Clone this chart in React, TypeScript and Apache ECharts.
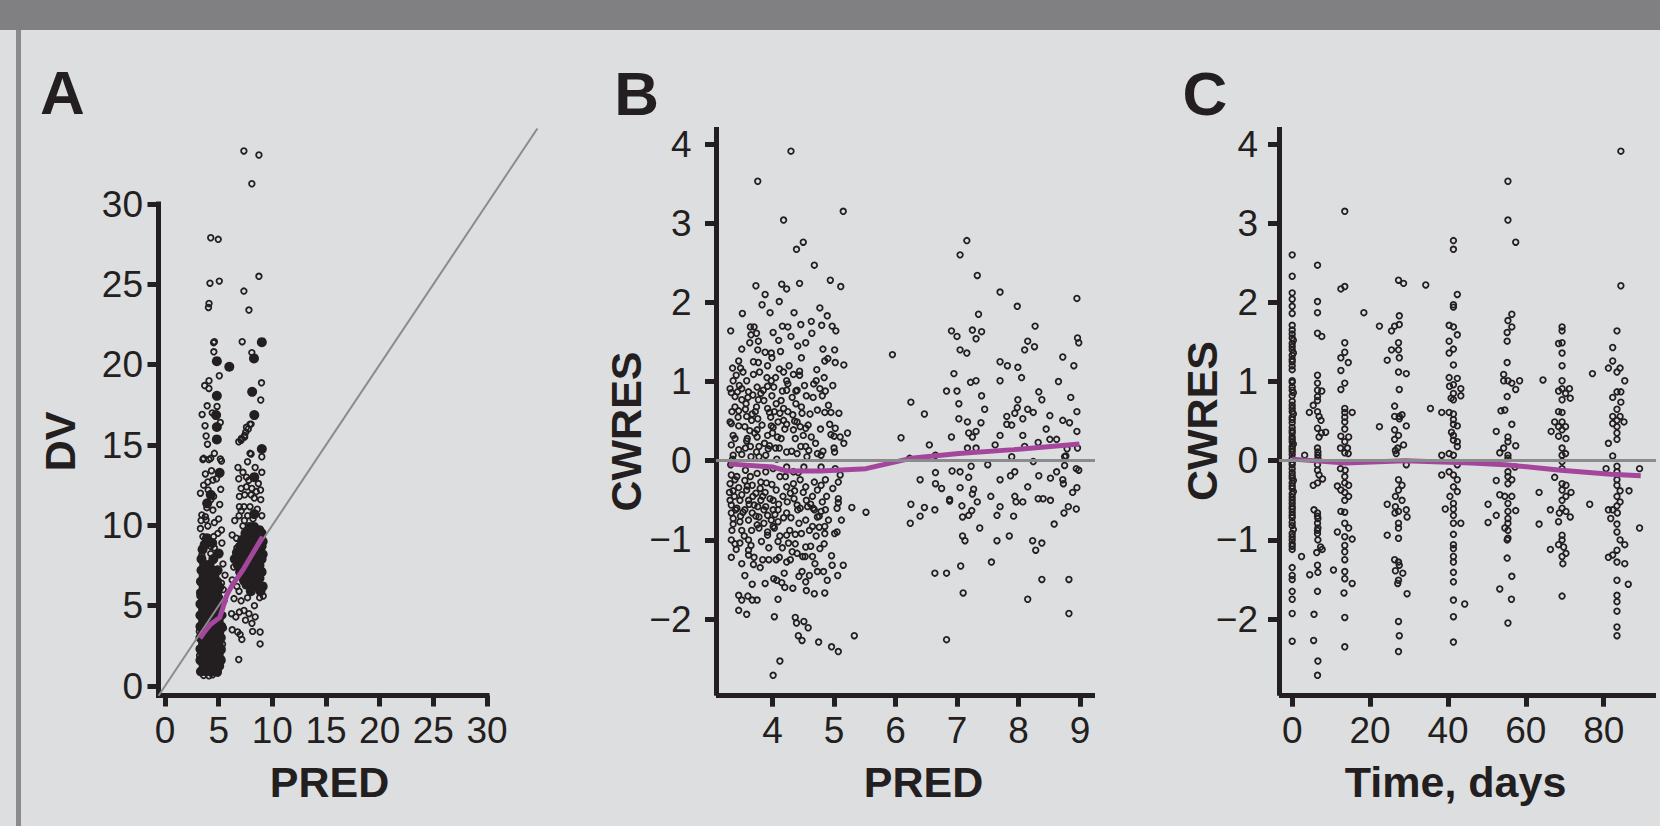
import React, { useEffect, useRef } from "react";
import * as echarts from "echarts";

const FONT = "'Liberation Sans', Arial, Helvetica, sans-serif";
const INK = "#231f20";
const MAGENTA = "#a4479c";
const GRAY = "#8b8b8d";

// ---------- tick labels ----------
const aTicks = [0, 5, 10, 15, 20, 25, 30];
const bXTicks = [4, 5, 6, 7, 8, 9];
const cwresTicks = [-2, -1, 0, 1, 2, 3, 4];
const cXTicks = [0, 20, 40, 60, 80];

// ---------- Panel A: DV vs PRED ----------
const aOpen = [
  [7.35,33.3],[8.75,33.05],[8.09,31.26],[4.26,27.9],[4.96,27.8],[8.75,25.5],[4.19,25.07],[5.06,25.2],[7.35,24.58],
  [4.1,23.81],[4.05,23.56],[7.82,23.4],[4.53,21.37],[4.6,21.43],[7.19,21.43],[8.09,20.75],[5.06,19.31],[8.99,18.87],
  [4.09,18.52],[8.92,17.8],[3.93,17.44],[3.46,16.9],[3.73,16.2],[7.92,16.3],[7.76,16.0],[7.52,15.8],[7.42,15.5],
  [7.09,15.3],[3.83,15.56],[3.96,15.05],[4.6,14.48],[8.02,14.44],[3.6,14.17],[4.26,14.17],[5.16,14.13],[9.02,14.27],
  [3.53,14.1],[4.09,14.1],[5.26,14.0],[3.76,13.2],[4.33,13.4],[3.99,12.7],[4.46,12.82],[4.02,12.2],[5.19,12.24],
  [4.53,11.8],[4.26,11.6],[4.46,10.95],[3.43,10.65],[3.76,10.54],[3.36,10.3],[3.83,10.34],[4.6,10.17],[3.99,9.96],
  [5.26,9.71],[4.93,9.5],[3.53,9.3],[4.53,9.3],[4.26,8.7],[4.6,8.6],[3.43,8.14],[4.26,8.24],[5.59,6.9],[5.26,6.4],
  [5.43,6.0],[5.36,2.6],[5.26,1.7],[4.93,0.8],[4.43,0.7],[4.09,0.63],[3.6,0.66],
  [6.87,1.65],[8.86,2.62],[8.16,3.4],[8.86,3.36],[6.26,3.5],[6.77,3.36],[7.0,3.2],[7.16,2.9],[6.2,4.5],[6.6,4.3],
  [6.93,4.6],[7.36,4.7],[7.82,4.5],[8.4,4.3],[6.43,5.44],[7.09,5.3],[7.69,5.5],[8.33,5.0],[8.82,5.5],[6.26,6.6],
  [6.7,6.2],[7.26,6.5],[7.92,6.6],[8.75,6.2],[6.93,7.85],[7.59,7.33],[8.26,8.04],[6.26,9.4],[6.66,9.2],[7.26,9.96],
  [8.99,9.25],[8.99,8.68],[6.87,12.9],[7.26,13.3],[7.59,13.0],[9.02,13.3],[7.09,12.3],[7.59,12.4],[8.09,12.3],
  [6.93,11.8],[7.42,11.9],[8.02,11.9],[8.32,11.7],[6.93,11.16],[7.36,11.16],[7.92,11.16],[8.92,11.6],[9.02,10.6],
  [6.87,15.2],[7.12,15.4],[7.42,15.6],[7.92,14.48],[7.69,13.96],[7.59,16.1],[8.02,16.3],
  [6.5,10.3],[6.9,10.6],[7.4,10.3],[8.6,11.0],[8.7,12.6],[8.4,13.6],[6.7,8.6],[6.4,7.4],[9.15,5.6],[8.1,3.9],
  [7.5,4.1],[6.9,5.9],[5.3,8.9],[5.4,7.6],[5.5,5.3],[5.4,4.4],[5.45,3.6],[5.3,2.2],[3.25,5.6],[3.2,3.4],[3.22,1.9],
  [3.3,9.8],[5.1,11.3],[4.8,12.9],[3.6,12.5],[5.15,16.4],[4.4,17.0],[4.85,17.4],[4.1,19.0],[3.7,18.7],[4.55,20.8],
  [7.8,12.8],[8.5,12.1],[7.1,10.9],[8.2,10.4],[7.7,10.6],[6.8,13.6],[8.9,12.2],[3.3,12.0],[3.9,11.1],[5.0,10.4]
];
const aFilled = [
  [9.02,21.4],[4.83,20.22],[5.99,19.87],[8.29,20.39],[4.83,18.06],[8.12,18.31],[4.76,16.86],[8.32,16.86],[4.83,16.12],
  [4.83,15.35],[9.02,14.75],[5.09,13.27],[4.26,11.9],[3.93,11.37],[3.7,8.8],[5.0,8.24],[8.32,13.0],[8.32,10.7],
  [3.5,8.5],[4.4,8.9],[3.9,9.2],
  [3.35,0.9],[3.85,0.9],[4.35,0.9],[4.85,0.9],
  [3.6,1.25],[4.1,1.25],[4.6,1.25],[5.05,1.25],
  [3.3,1.6],[3.8,1.6],[4.3,1.6],[4.8,1.6],[5.2,1.6],
  [3.55,1.95],[4.05,1.95],[4.55,1.95],[5.0,1.95],
  [3.3,2.3],[3.8,2.3],[4.3,2.3],[4.8,2.3],[5.2,2.3],
  [3.55,2.65],[4.05,2.65],[4.55,2.65],[5.0,2.65],
  [3.3,3.0],[3.8,3.0],[4.3,3.0],[4.8,3.0],[5.2,3.0],
  [3.55,3.35],[4.05,3.35],[4.55,3.35],[5.05,3.35],
  [3.3,3.7],[3.8,3.7],[4.3,3.7],[4.8,3.7],[5.25,3.7],
  [3.55,4.05],[4.05,4.05],[4.55,4.05],[5.0,4.05],
  [3.3,4.4],[3.8,4.4],[4.3,4.4],[4.8,4.4],[5.2,4.4],
  [3.55,4.75],[4.05,4.75],[4.55,4.75],[5.0,4.75],
  [3.3,5.1],[3.8,5.1],[4.3,5.1],[4.8,5.1],[5.2,5.1],
  [3.55,5.45],[4.05,5.45],[4.55,5.45],[5.0,5.45],
  [3.35,5.8],[3.85,5.8],[4.35,5.8],[4.85,5.8],
  [3.6,6.15],[4.1,6.15],[4.6,6.15],[5.05,6.15],
  [3.35,6.5],[3.85,6.5],[4.35,6.5],[4.85,6.5],
  [3.6,6.85],[4.1,6.85],[4.6,6.85],
  [3.4,7.2],[3.9,7.2],[4.4,7.2],[4.9,7.2],
  [3.65,7.55],[4.15,7.55],[3.4,7.9],[4.5,7.9],
  [7.9,9.9],[8.3,9.9],[8.8,9.7],
  [7.5,9.5],[8.0,9.5],[8.5,9.4],[9.0,9.5],
  [7.2,9.1],[7.7,9.1],[8.2,9.0],[8.7,9.1],[9.1,9.0],
  [7.0,8.7],[7.5,8.7],[8.0,8.6],[8.5,8.7],[9.0,8.7],
  [6.7,8.3],[7.2,8.3],[7.7,8.2],[8.2,8.3],[8.7,8.3],[9.1,8.2],
  [6.5,7.9],[7.0,7.9],[7.5,7.8],[8.0,7.9],[8.5,7.9],[9.0,7.9],
  [6.8,7.5],[7.3,7.5],[7.8,7.4],[8.3,7.5],[8.8,7.5],
  [7.0,7.1],[7.5,7.1],[8.0,7.0],[8.5,7.1],[9.0,7.1],
  [7.3,6.7],[7.8,6.7],[8.3,6.6],[8.8,6.7],
  [7.6,6.3],[8.1,6.3],[8.6,6.2],[9.1,6.2],
  [8.0,5.9],[8.9,5.9]
];
const aIdentity = [[-0.606,-0.606],[34.7,34.7]];
const aLoess = [[3.26,2.97],[3.76,3.45],[4.26,3.85],[4.76,4.1],[5.09,4.25],[5.43,4.94],[5.76,5.66],[6.26,6.28],[7.26,7.22],[9.09,9.29]];

// ---------- Panel B: CWRES vs PRED ----------
const bPoints = [
  [4.30,3.91],[3.76,3.53],[4.18,3.04],[5.15,3.15],[4.39,2.67],[4.50,2.76],[4.68,2.47],[3.73,2.21],[3.88,2.10],[4.15,2.23],
  [4.23,2.17],[4.44,2.24],[4.94,2.28],[5.11,2.20],[4.11,2.01],[3.83,1.97],[3.51,1.86],[3.96,1.87],[4.35,1.87],[4.77,1.93],
  [4.89,1.83],[3.32,1.64],[3.64,1.69],[3.70,1.69],[4.01,1.62],[4.16,1.70],[4.25,1.69],[4.46,1.72],[4.63,1.76],[4.80,1.71],
  [4.97,1.70],[5.03,1.64],[3.65,1.59],[3.74,1.61],[3.63,1.49],[3.77,1.51],[4.10,1.52],[4.30,1.57],[4.54,1.49],[4.64,1.61],
  [3.50,1.41],[3.76,1.40],[3.88,1.37],[3.98,1.36],[3.99,1.30],[4.47,1.30],[4.82,1.41],[5.01,1.40],[4.90,1.29],[4.85,1.26],
  [5.02,1.24],[5.16,1.21],[3.45,1.26],[3.35,1.17],[3.48,1.17],[3.77,1.24],[3.92,1.20],[4.11,1.16],[4.18,1.12],[4.34,1.09],
  [4.44,1.13],[4.44,1.08],[3.36,1.01],[3.41,1.08],[3.58,1.01],[3.69,1.09],[3.79,1.12],[3.98,1.01],[4.05,1.05],[4.23,1.01],
  [4.25,0.97],[4.23,0.89],[4.38,0.88],[4.40,0.89],[4.71,1.01],[4.67,0.97],[4.77,0.91],[4.86,0.88],[4.81,0.82],[4.55,0.82],
  [3.31,0.91],[3.33,0.86],[3.43,0.87],[3.50,0.91],[3.61,0.87],[3.75,0.93],[3.85,0.89],[3.92,0.94],[3.39,0.81],[3.50,0.77],
  [3.60,0.80],[3.68,0.83],[3.77,0.77],[3.86,0.76],[3.99,0.82],[4.14,0.76],[3.39,0.68],[3.45,0.63],[3.56,0.65],[3.74,0.68],
  [3.92,0.66],[4.06,0.72],[4.18,0.66],[3.58,0.56],[3.67,0.59],[3.95,0.61],[4.03,0.62],[4.12,0.60],[4.33,0.58],[4.48,0.60],
  [4.61,0.59],[4.73,0.64],[4.85,0.61],[4.95,0.61],[3.31,0.49],[3.33,0.47],[3.45,0.44],[3.55,0.43],[3.66,0.51],[3.76,0.53],
  [3.98,0.44],[4.01,0.42],[4.09,0.49],[4.18,0.51],[4.23,0.46],[4.40,0.49],[4.45,0.43],[4.54,0.41],[4.93,0.46],[5.02,0.41],
  [5.22,0.35],[3.36,0.32],[3.39,0.28],[3.59,0.28],[3.75,0.39],[3.75,0.30],[3.92,0.32],[4.34,0.39],[4.37,0.28],[4.50,0.32],
  [4.63,0.30],[5.00,0.31],[5.10,0.30],[5.16,0.22],[5.00,0.16],[5.01,0.11],[3.33,0.20],[3.45,0.14],[3.56,0.16],[3.64,0.18],
  [3.78,0.18],[3.95,0.19],[4.05,0.16],[4.11,0.16],[4.23,0.11],[4.40,0.09],[4.54,0.18],[4.59,0.13],[4.73,0.09],[4.79,0.07],
  [3.36,0.07],[3.50,0.08],[3.74,0.11],[3.89,0.07],
  [3.33,-0.18],[3.39,-0.24],[3.31,-0.29],[3.45,-0.34],[3.36,-0.38],[3.50,-0.43],[3.31,-0.50],[3.33,-0.56],[3.42,-0.60],
  [3.33,-0.66],[3.36,-0.73],[3.47,-0.77],[3.50,-0.88],[3.36,-0.80],[3.56,-0.12],[3.64,-0.20],[3.75,-0.16],[3.81,-0.27],
  [3.67,-0.31],[3.58,-0.37],[3.73,-0.41],[3.84,-0.45],[3.61,-0.50],[3.70,-0.56],[3.81,-0.50],[3.89,-0.58],[3.55,-0.62],
  [3.67,-0.66],[3.78,-0.71],[3.92,-0.69],[3.61,-0.75],[3.75,-0.81],[3.86,-0.79],[3.98,-0.75],[3.78,-0.85],[3.92,-0.90],
  [4.01,-0.83],[4.09,-0.77],[3.92,-0.94],[3.33,-1.00],[3.39,-1.05],[3.47,-1.04],[3.61,-1.00],[3.65,-1.07],[3.61,-1.13],
  [3.61,-1.19],[3.33,-1.22],[3.50,-1.30],[3.69,-1.31],[3.84,-1.25],[3.94,-1.25],[4.06,-1.25],[4.11,-1.22],[4.23,-1.28],
  [4.29,-1.25],[3.67,-1.56],[3.88,-1.55],[4.02,-1.49],[4.07,-1.51],[4.15,-1.54],[4.19,-1.42],[4.33,-1.61],[3.45,-1.70],
  [3.60,-1.71],[3.50,-1.76],[3.67,-1.76],[3.75,-1.76],[3.45,-1.89],[3.58,-1.94],[4.09,-1.75],[4.03,-1.97],[4.37,-1.98],
  [4.39,-2.05],[4.51,-2.03],[4.58,-2.11],[4.42,-2.21],[4.48,-2.27],[4.75,-2.29],[4.96,-2.35],[5.07,-2.41],[5.33,-2.21],
  [4.12,-2.53],[4.01,-2.71],[4.55,-1.64],[4.68,-1.68],[4.85,-1.67],[4.43,-1.46],[4.48,-1.40],[4.54,-1.53],[4.69,-1.30],
  [4.73,-1.40],[4.83,-1.40],[4.89,-1.51],[4.97,-1.32],[5.15,-1.32],[5.06,-1.45],[4.96,-1.20],[4.26,-1.04],[4.37,-1.05],
  [4.32,-1.15],[4.40,-1.17],[4.49,-1.21],[4.53,-1.21],[4.65,-1.21],[4.54,-1.09],[4.62,-1.08],[4.77,-1.11],[4.84,-1.05],
  [4.37,-0.93],[4.09,-1.02],[4.23,-0.94],[4.43,-0.79],[4.54,-0.75],[4.65,-0.83],[4.76,-0.84],[4.85,-0.83],[4.85,-0.92],
  [5.01,-0.92],[5.05,-0.90],[4.40,-0.56],[4.45,-0.60],[4.57,-0.58],[4.68,-0.62],[4.79,-0.64],[4.86,-0.62],[4.73,-0.71],
  [5.07,-0.48],[5.07,-0.53],[5.29,-0.59],[5.52,-0.65],[5.07,-0.27],[5.10,-0.18],[5.02,-0.10],[4.23,-0.33],[4.34,-0.29],
  [4.45,-0.24],[4.12,-0.20],[4.06,-0.37],[4.17,-0.45],[4.29,-0.41],[4.54,-0.33],[4.68,-0.27],[4.79,-0.31],[4.86,-0.24],
  [4.73,-0.37],[4.65,-0.45],[4.01,-0.50],[4.09,-0.62],[4.23,-0.66],[4.01,-0.62],[4.01,-0.10],[4.23,-0.08],[4.51,-0.08],
  [4.79,-0.08],[4.34,-0.14],[3.89,-0.14],
  [3.30,-0.40],[3.32,-0.05],[3.35,0.02],[3.38,-0.45],[3.40,-0.62],[3.42,-0.20],[3.44,0.55],[3.47,-0.50],[3.52,-0.65],
  [3.55,-0.25],[3.58,0.25],[3.62,-0.55],[3.65,0.05],[3.68,-0.45],[3.71,0.35],[3.73,-0.70],[3.78,0.05],[3.80,-0.35],
  [3.83,0.45],[3.86,-0.62],[3.90,-0.28],[3.93,0.15],[3.96,-0.48],[4.00,0.35],[4.03,-0.85],[4.07,0.02],[4.10,-0.55],
  [4.14,0.28],[4.18,-0.72],[4.21,-0.20],[4.25,0.62],[4.28,-0.88],[4.31,0.12],[4.35,-0.48],[4.38,0.72],[4.42,-0.15],
  [4.46,0.18],[4.50,-0.40],[4.56,0.05],[4.62,-0.55],[4.70,0.22],[4.76,-0.70],[4.82,0.12],[4.88,-0.45],[4.95,0.33],[5.05,-0.60],
  [3.34,0.62],[3.46,0.95],[3.52,1.12],[3.57,0.72],[3.63,0.38],[3.69,1.25],[3.72,0.62],[3.81,0.85],[3.87,0.22],[3.91,1.05],
  [3.97,0.55],[4.02,0.93],[4.08,0.30],[4.13,1.38],[4.16,0.88],[4.20,0.40],[4.27,1.20],[4.32,0.80],[4.36,0.50],[4.41,1.45],
  [4.47,0.68],[4.52,0.95],[4.58,0.45],[4.66,0.80],[4.72,1.15],[4.78,0.40],[4.84,1.05],[4.91,0.70],[4.98,0.95],[5.08,0.60],
  [3.34,-0.88],[3.41,-1.12],[3.48,-0.70],[3.54,-0.95],[3.59,-0.32],[3.66,-0.88],[3.70,-1.22],[3.76,-0.58],[3.82,-1.02],
  [3.88,-0.40],[3.94,-1.10],[3.99,-0.30],[4.04,-0.68],[4.12,-0.95],[4.16,-1.10],[4.24,-0.52],[4.30,-0.72],[4.36,-0.38],
  [4.41,-0.62],[4.47,-0.92],[4.55,-0.50],[4.60,-0.88],[4.66,-0.60],[4.71,-0.95],[4.81,-0.52],[4.91,-0.75],[4.98,-0.35],
  [5.12,-0.75],[4.60,-1.45],[4.20,-1.60],[3.80,-1.35],[3.55,-1.45],
  [5.95,1.34],[6.25,0.74],[6.47,0.59],[6.09,0.29],[7.16,2.78],[7.05,2.60],[7.33,2.34],[7.70,2.13],[7.98,1.95],[8.95,2.05],
  [7.35,1.85],[8.27,1.70],[6.91,1.64],[7.00,1.57],[7.25,1.65],[7.40,1.63],[7.31,1.54],[8.15,1.51],[7.05,1.40],[7.16,1.36],
  [8.26,1.44],[8.10,1.40],[8.96,1.55],[8.98,1.49],[8.72,1.31],[7.70,1.25],[7.82,1.20],[7.99,1.18],[8.90,1.20],[7.22,0.99],
  [7.31,1.01],[7.70,1.01],[6.83,0.88],[7.00,0.88],[7.40,0.82],[8.33,0.87],[8.38,0.77],[7.03,0.72],[7.99,0.77],[7.98,0.67],
  [8.15,0.65],[8.24,0.61],[7.81,0.56],[7.94,0.60],[8.07,0.53],[8.51,0.57],[8.95,0.62],[7.03,0.53],[7.17,0.49],[7.39,0.48],
  [7.81,0.46],[7.89,0.45],[8.72,0.51],[8.83,0.48],[8.95,0.37],[6.91,0.30],[7.19,0.35],[7.31,0.37],[7.25,0.30],[7.70,0.32],
  [8.07,0.32],[8.51,0.27],[8.62,0.27],[7.17,0.16],[7.31,0.16],[8.10,0.18],[8.32,0.23],[8.79,0.15],[8.96,0.16],[6.65,0.07],
  [6.23,0.03],[7.89,0.05],[8.77,0.06],
  [6.40,-0.24],[6.65,-0.15],[6.65,-0.29],[6.92,-0.13],[7.05,-0.14],[7.19,-0.21],[7.23,-0.07],[7.05,-0.34],[7.27,-0.36],
  [7.25,-0.42],[7.33,-0.52],[6.88,-0.49],[6.88,-0.51],[7.08,-0.57],[6.25,-0.55],[6.47,-0.59],[6.64,-0.62],[6.40,-0.70],
  [6.24,-0.79],[7.09,-0.71],[7.19,-0.69],[7.24,-0.63],[7.37,-0.85],[7.09,-0.95],[7.13,-1.01],[6.64,-1.42],[6.83,-1.42],
  [7.06,-1.33],[7.10,-1.67],[6.83,-2.26],[7.56,-1.28],[7.65,-1.01],[7.65,-0.69],[7.70,-0.58],[7.70,-0.24],[7.87,-0.19],
  [7.94,-0.14],[7.92,-0.70],[7.94,-0.45],[7.96,-0.52],[8.07,-0.52],[8.15,-0.33],[8.24,-0.01],[8.33,-0.19],[8.32,-0.48],
  [8.40,-0.48],[8.52,-0.50],[8.52,-0.22],[8.62,-0.14],[8.72,-0.24],[8.73,-0.29],[8.75,-0.06],[8.75,0.05],[8.94,-0.10],
  [8.98,-0.12],[8.95,-0.34],[8.81,-0.58],[8.74,-0.66],[8.94,-0.61],[8.23,-1.01],[8.38,-1.04],[8.28,-1.13],[8.38,-1.50],
  [8.15,-1.75],[8.82,-1.50],[8.82,-1.93],
  [6.55,0.20],[6.75,-0.35],[7.45,0.65],[7.55,-0.45],[7.62,0.20],[8.45,0.40],[8.58,-0.80],[8.85,0.80],[7.85,-0.95],
  [6.95,1.10],[8.05,1.05],[8.65,1.00],[7.50,-0.05],[8.88,-0.40]
];
const bLoess = [[3.29,-0.04],[4.01,-0.08],[4.23,-0.13],[4.79,-0.13],[5.52,-0.10],[6.25,0.03],[7.03,0.09],[7.92,0.14],[8.99,0.21]];

// ---------- Panel C: CWRES vs Time ----------
const cPoints = [
  [0,2.60],[0,2.33],[0,2.12],[0,2.04],[0,1.95],[0,1.86],[0,1.71],[0,1.65],[0,1.60],[0,1.55],[0,1.48],[0,1.40],[0,1.33],
  [0,1.25],[0,1.20],[0,1.01],[0,0.99],[0,0.89],[0,0.82],[0,0.75],[0,0.70],[0,0.62],[0,0.55],[0,0.48],[0,0.42],[0,0.35],
  [0,0.30],[0,0.24],[0,0.18],[0,0.12],[0,0.08],[0,0.03],[0,-0.05],[0,-0.10],[0,-0.15],[0,-0.22],[0,-0.28],[0,-0.35],
  [0,-0.42],[0,-0.50],[0,-0.58],[0,-0.65],[0,-0.72],[0,-0.82],[0,-0.92],[0,-1.00],[0,-1.05],[0,-1.12],[0,-1.35],[0,-1.45],
  [0,-1.50],[0,-1.65],[0,-1.75],[0,-1.93],[0,-2.28],[0,1.44],[0,1.28],[0,1.15],[0,0.93],[0,0.66],[0,0.52],[0,0.38],
  [0,0.27],[0,0.15],[0,-0.02],[0,-0.19],[0,-0.32],[0,-0.46],[0,-0.54],[0,-0.61],[0,-0.69],[0,-0.78],[0,-0.96],[0,-1.08],
  [0.3,1.52],[0.3,1.36],[0.3,0.86],[0.3,0.59],[0.3,0.21],[0.3,-0.25],[0.3,-0.39],[0.3,-0.87],
  [3.2,0.07],[2.4,-1.21],[4.5,-1.44],[4.4,0.61],
  [6.5,2.47],[6.5,2.01],[6.5,1.87],[6.5,1.61],[7.6,1.57],[6.5,1.08],[6.5,0.98],[6.5,0.89],[7.6,0.88],[6.5,0.81],[6.5,0.76],
  [5.4,0.70],[6.5,0.62],[6.9,0.56],[7.4,0.51],[6.5,0.41],[7.5,0.35],[6.9,0.30],[6.6,0.11],[6.6,0.07],[6.6,0.03],[6.5,-0.05],
  [6.5,-0.12],[6.9,-0.18],[7.8,-0.23],[5.4,-0.31],[8.6,0.36],[5.6,-0.62],[6.5,-0.66],[6.6,-0.73],[6.5,-0.79],[6.6,-0.85],
  [6.5,-0.92],[6.6,-1.00],[7.3,-1.09],[7.7,-1.12],[6.3,-1.16],[6.5,-1.32],[6.6,-1.41],[6.5,-1.65],[5.6,-1.94],[5.5,-2.27],
  [6.6,-2.53],[6.5,-2.71],[6.5,0.16],[6.5,-0.28],[6.5,-0.70],[6.5,-0.88],
  [13.5,3.15],[12.5,2.17],[13.5,2.20],[13.5,1.49],[12.5,1.30],[13.5,1.37],[14.4,1.24],[12.5,1.14],[13.5,0.98],[12.5,0.90],
  [13.5,0.66],[13.5,0.61],[15.4,0.61],[13.5,0.49],[13.5,0.40],[12.5,0.31],[14.5,0.30],[13.5,0.24],[12.4,0.16],[14.2,0.16],
  [14.4,0.09],[12.4,-0.10],[13.6,-0.12],[13.5,-0.20],[11.6,-0.32],[14.5,-0.31],[12.5,-0.37],[14.5,-0.45],[13.5,-0.50],
  [12.5,-0.64],[13.5,-0.79],[14.5,-0.85],[11.6,-0.90],[13.5,-0.96],[15.4,-0.99],[13.5,-1.07],[13.5,-1.15],[13.5,-1.25],
  [10.6,-1.38],[13.5,-1.40],[13.5,-1.49],[15.4,-1.55],[13.3,-1.67],[13.5,-1.98],[13.5,-2.35],[13.5,0.55],[13.5,0.10],
  [13.5,-0.28],[13.5,-0.40],[13.5,-0.65],
  [18.4,1.87],[22.4,1.70],[22.4,0.43],[24.4,1.27],[24.4,-0.55],[24.4,-0.94],[34.3,2.22],[35.5,0.66],[38.4,0.61],[38.4,0.07],
  [38.4,-0.18],[39.3,-0.61],[44.3,-1.81],[43.3,-0.79],
  [27.3,2.28],[28.6,2.24],[27.5,1.83],[25.5,1.64],[26.3,1.70],[27.5,1.72],[27.3,1.49],[27.3,1.40],[25.5,1.40],[27.5,1.30],
  [27.3,1.12],[29.3,1.10],[27.5,0.90],[26.3,0.69],[26.3,0.56],[27.5,0.56],[27.5,0.53],[26.3,0.39],[27.3,0.32],[29.3,0.44],
  [26.3,0.27],[28.6,0.20],[27.1,0.16],[26.7,0.09],[28.2,0.58],[26.5,0.13],[29.3,-0.05],[27.3,-0.24],[28.2,-0.31],
  [27.3,-0.37],[26.5,-0.45],[28.2,-0.50],[26.5,-0.58],[27.3,-0.64],[29.3,-0.62],[26.4,-0.66],[29.5,-0.71],[27.3,-0.79],
  [27.3,-0.85],[27.3,-0.98],[26.3,-1.25],[27.3,-1.28],[27.5,-1.32],[26.5,-1.39],[28.4,-1.42],[27.3,-1.51],[27.1,-1.55],
  [29.5,-1.68],[27.3,-2.03],[27.5,-2.21],[27.3,-2.41],
  [41.4,2.78],[41.4,2.67],[42.4,2.10],[41.4,1.94],[41.4,1.97],[40.3,1.71],[41.4,1.69],[42.4,1.59],[40.3,1.51],[41.4,1.41],
  [40.3,1.36],[41.4,1.21],[40.3,1.05],[42.4,1.04],[41.4,0.96],[40.4,0.94],[43.3,0.91],[41.4,0.85],[43.3,0.82],[40.8,0.79],
  [41.4,0.77],[40.3,0.61],[41.4,0.59],[41.4,0.46],[42.4,0.44],[41.4,0.32],[42.4,0.24],[41.4,0.26],[40.3,0.09],[41.4,0.07],
  [41.4,0.52],[40.9,0.36],[42.4,0.18],[42.4,-0.05],[40.3,-0.14],[41.4,-0.18],[42.4,-0.24],[41.4,-0.33],[42.4,-0.39],
  [40.5,-0.45],[41.4,-0.54],[41.4,-0.61],[41.4,-0.69],[41.4,-0.79],[41.4,-0.93],[41.4,-1.06],[41.4,-1.11],[41.4,-1.21],
  [41.4,-1.28],[41.4,-1.41],[41.4,-1.53],[41.4,-1.76],[41.4,-1.97],[41.4,-2.29],
  [55.4,3.53],[55.4,3.04],[57.4,2.76],[56.4,1.85],[55.4,1.77],[56.4,1.69],[55.2,1.62],[55.2,1.51],[55.2,1.24],[54.3,1.09],
  [55.4,1.01],[54.3,1.01],[56.4,0.98],[58.4,1.01],[57.4,0.90],[55.2,0.81],[53.6,0.63],[54.6,0.64],[56.4,0.46],[52.4,0.37],
  [55.4,0.30],[55.4,0.24],[57.4,0.19],[54.3,0.16],[53.3,0.10],[55.4,0.07],[55.4,0.03],[57.2,-0.08],[55.4,-0.14],
  [55.4,-0.20],[56.4,-0.24],[52.4,-0.25],[55.4,-0.29],[53.3,-0.43],[54.6,-0.45],[56.4,-0.45],[50.3,-0.55],[55.4,-0.54],
  [57.4,-0.63],[52.4,-0.69],[55.4,-0.64],[55.4,-0.73],[50.3,-0.78],[55.4,-0.79],[54.6,-0.85],[55.4,-0.88],[55.4,-0.98],
  [55.2,-1.00],[55.2,-1.23],[56.4,-1.46],[53.3,-1.62],[56.3,-1.75],[55.4,-2.05],
  [64.4,1.02],[63.4,-0.40],[63.4,-0.80],[66.3,-0.62],[66.3,-1.12],[67.4,-0.21],
  [69.3,1.69],[69.3,1.64],[68.4,1.48],[69.3,1.49],[69.3,1.36],[69.3,1.20],[69.3,1.01],[69.3,0.91],[71.2,0.91],[68.4,0.88],
  [70.2,0.85],[69.3,0.77],[71.4,0.79],[68.4,0.62],[69.3,0.61],[67.4,0.49],[69.3,0.49],[70.2,0.43],[68.4,0.43],[66.5,0.37],
  [69.3,0.39],[68.4,0.31],[70.3,0.28],[69.3,0.16],[70.2,0.09],[69.3,0.07],[69.3,-0.01],[69.3,-0.10],[69.3,-0.29],
  [70.3,-0.31],[69.3,-0.37],[71.6,-0.40],[69.3,-0.50],[70.3,-0.45],[69.3,-0.60],[68.6,-0.66],[70.3,-0.64],[71.4,-0.71],
  [68.4,-0.77],[69.3,-0.94],[69.3,-1.00],[68.4,-1.06],[69.7,-1.09],[70.3,-1.17],[69.3,-1.21],[69.5,-1.30],[69.3,-1.71],
  [77.1,1.10],[76.4,-0.55],
  [84.4,3.91],[84.4,2.21],[83.4,1.64],[82.3,1.43],[82.3,1.26],[84.2,1.17],[81.2,1.17],[83.4,1.12],[85.4,1.01],[83.4,0.87],
  [84.4,0.87],[82.3,0.80],[84.4,0.74],[83.4,0.65],[82.3,0.56],[84.2,0.56],[83.4,0.51],[85.2,0.49],[82.3,0.47],[83.4,0.43],
  [83.4,0.35],[83.4,0.27],[81.2,0.22],[82.3,0.06],[80.6,-0.10],[83.4,-0.07],[83.4,-0.14],[83.4,-0.24],[83.4,-0.31],
  [84.2,-0.38],[83.4,-0.45],[84.2,-0.52],[83.4,-0.57],[82.3,-0.62],[81.2,-0.62],[83.5,-0.66],[81.8,-0.73],[83.4,-0.80],
  [83.4,-0.90],[84.2,-1.00],[85.4,-1.06],[83.4,-1.13],[82.3,-1.19],[81.2,-1.22],[83.4,-1.28],[85.4,-1.30],[83.4,-1.51],
  [86.3,-1.56],[83.4,-1.70],[83.4,-1.78],[83.4,-1.90],[83.4,-2.10],[83.4,-2.21],[86.5,-0.38],[89.2,-0.85],[89.2,-0.10]
];
const cLoess = [[0,0.02],[13.7,-0.03],[29,0.0],[46,-0.03],[54.6,-0.05],[69,-0.12],[81.8,-0.17],[89.5,-0.19]];

const minusFmt = (v: number) => (v < 0 ? "\u2212" + Math.abs(v) : String(v));

function axis(gridIndex: number, min: number, max: number, ticks: number[], margin: number, cap: string, fmt?: (v: number) => string) {
  return {
    type: "value",
    gridIndex,
    min,
    max,
    axisLine: { show: true, onZero: false, lineStyle: { color: INK, width: 5, cap } },
    axisTick: { show: true, length: 11, lineStyle: { color: INK, width: 5 }, customValues: ticks },
    axisLabel: {
      show: true,
      customValues: ticks,
      fontSize: 37,
      fontFamily: FONT,
      color: INK,
      margin,
      formatter: fmt || ((v: number) => String(v)),
    },
    splitLine: { show: false },
  };
}

function hiddenAxis(gridIndex: number, min: number, max: number) {
  return {
    type: "value",
    gridIndex,
    min,
    max,
    show: false,
    axisLine: { show: false },
    axisTick: { show: false },
    axisLabel: { show: false },
    splitLine: { show: false },
  };
}

const openStyle = { color: "rgba(0,0,0,0)", borderColor: INK, borderWidth: 1.8, opacity: 1 };

function titleText(text: string, x: number, y: number, rotate: boolean, size: number) {
  return {
    type: "text",
    x,
    y,
    rotation: rotate ? Math.PI / 2 : 0,
    silent: true,
    style: {
      text,
      fill: INK,
      fontSize: size,
      fontWeight: "bold",
      fontFamily: FONT,
      align: "center",
      verticalAlign: "middle",
      textAlign: "center",
      textVerticalAlign: "middle",
    },
  };
}

export default function App() {
  const ref = useRef<HTMLDivElement>(null);
  useEffect(() => {
    if (!ref.current) return;
    const chart = echarts.init(ref.current, null, { renderer: "svg", width: 1660, height: 826 });
    const option: any = {
      animation: false,
      backgroundColor: "#dddee0",
      grid: [
        { left: 158.5, top: 204, width: 328.5, height: 491.5 },
        { left: 716, top: 127, width: 379, height: 568.7 },
        { left: 1279, top: 127, width: 377, height: 568.7 },
        // same scale as panel A, extended so the identity line can run past 30
        { left: 158.5, top: 128.5, width: 378.9, height: 567 },
      ],
      xAxis: [
        axis(0, -0.606, 30, aTicks, 16.5, "square"),
        axis(1, 3.081, 9.244, bXTicks, 16.5, "butt"),
        axis(2, -3.39, 93.42, cXTicks, 16.5, "butt"),
        hiddenAxis(3, -0.606, 34.7),
      ],
      yAxis: [
        axis(0, -0.591, 30, aTicks, 15.5, "square"),
        axis(1, -2.968, 4.215, cwresTicks, 24.5, "butt", minusFmt),
        axis(2, -2.968, 4.215, cwresTicks, 21, "butt", minusFmt),
        hiddenAxis(3, -0.591, 34.7),
      ],
      series: [
        { type: "scatter", xAxisIndex: 0, yAxisIndex: 0, data: aOpen, symbol: "circle", symbolSize: 5.6, itemStyle: openStyle, clip: false, silent: true, z: 2 },
        { type: "scatter", xAxisIndex: 0, yAxisIndex: 0, data: aFilled, symbol: "circle", symbolSize: 10, itemStyle: { color: INK, opacity: 1 }, clip: false, silent: true, z: 2 },
        { type: "line", xAxisIndex: 3, yAxisIndex: 3, data: aIdentity, showSymbol: false, symbol: "none", silent: true, lineStyle: { color: GRAY, width: 2 }, z: 3 },
        { type: "line", xAxisIndex: 0, yAxisIndex: 0, data: aLoess, showSymbol: false, symbol: "none", silent: true, lineStyle: { color: MAGENTA, width: 5 }, z: 4 },

        {
          type: "scatter", xAxisIndex: 1, yAxisIndex: 1, data: bPoints, symbol: "circle", symbolSize: 5.6, itemStyle: openStyle, silent: true, z: 2,
          markLine: { silent: true, symbol: ["none", "none"], label: { show: false }, lineStyle: { color: GRAY, width: 3, type: "solid", opacity: 1 }, data: [{ yAxis: 0 }] },
        },
        { type: "line", xAxisIndex: 1, yAxisIndex: 1, data: bLoess, showSymbol: false, symbol: "none", silent: true, lineStyle: { color: MAGENTA, width: 5 }, z: 4 },

        {
          type: "scatter", xAxisIndex: 2, yAxisIndex: 2, data: cPoints, symbol: "circle", symbolSize: 5.6, itemStyle: openStyle, silent: true, z: 2,
          markLine: { silent: true, symbol: ["none", "none"], label: { show: false }, lineStyle: { color: GRAY, width: 3, type: "solid", opacity: 1 }, data: [{ yAxis: 0 }] },
        },
        { type: "line", xAxisIndex: 2, yAxisIndex: 2, data: cLoess, showSymbol: false, symbol: "none", silent: true, lineStyle: { color: MAGENTA, width: 5 }, z: 4 },
      ],
      graphic: [
        { type: "rect", silent: true, shape: { x: 0, y: 0, width: 1660, height: 30 }, style: { fill: "#808083" } },
        { type: "rect", silent: true, shape: { x: 16, y: 30, width: 5, height: 796 }, style: { fill: "#8a8a8c" } },
        titleText("A", 62.3, 92.5, false, 62),
        titleText("B", 636.7, 93.3, false, 62),
        titleText("C", 1205, 93, false, 62),
        titleText("DV", 59.5, 441.5, true, 43),
        titleText("CWRES", 625.7, 431.5, true, 43),
        titleText("CWRES", 1201.5, 421, true, 43),
        titleText("PRED", 329.5, 781.7, false, 43),
        titleText("PRED", 923.5, 781.7, false, 43),
        titleText("Time, days", 1455.6, 781.7, false, 43),
      ],
    };
    chart.setOption(option);
    return () => chart.dispose();
  }, []);
  return <div ref={ref} style={{ position: "absolute", left: 0, top: 0, width: 1660, height: 826 }} />;
}
